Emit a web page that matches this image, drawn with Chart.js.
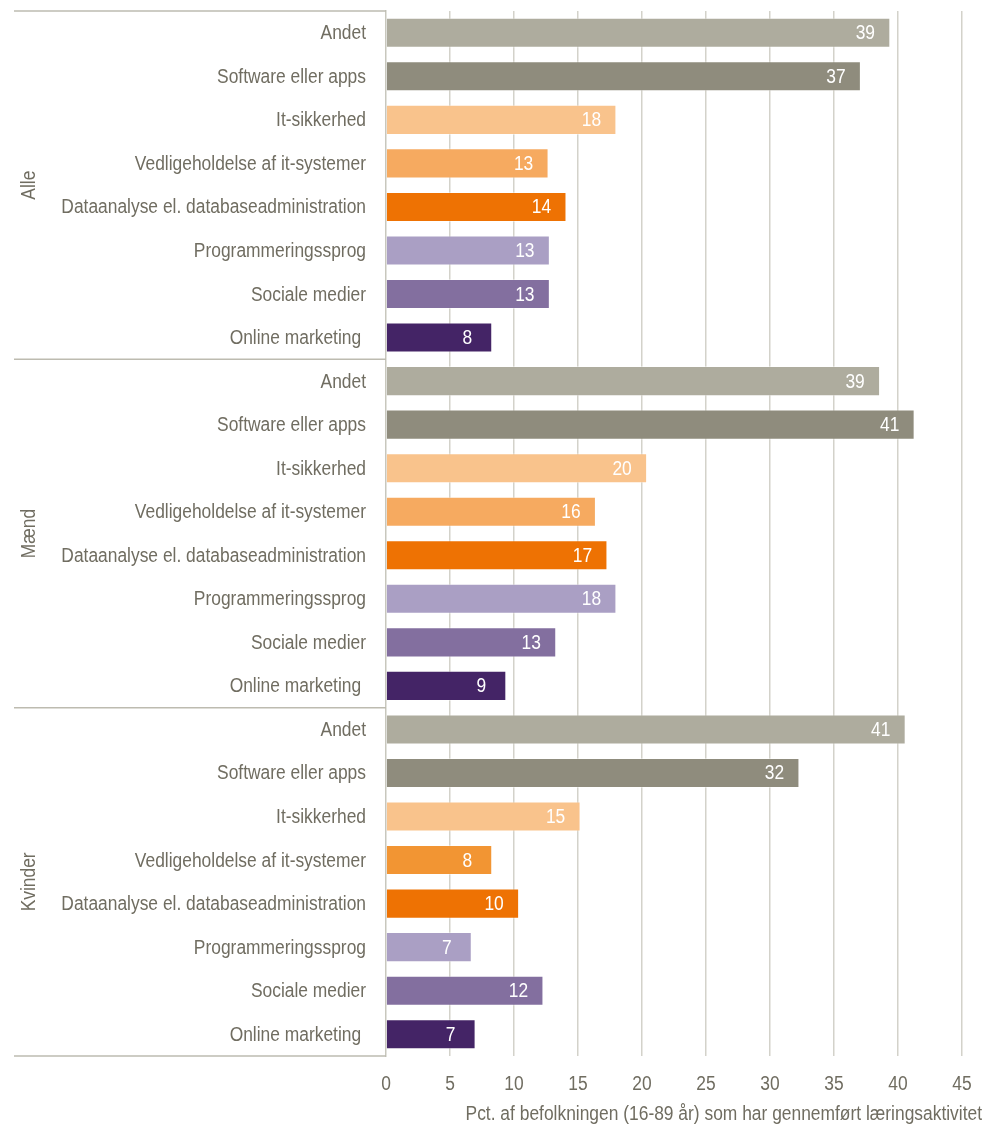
<!DOCTYPE html>
<html>
<head>
<meta charset="utf-8">
<script src="https://cdn.jsdelivr.net/npm/chart.js@4/dist/chart.umd.min.js"></script>
<style>
  html, body { margin: 0; padding: 0; background: #fff; }
  #wrap { width: 1000px; height: 1126px; position: relative; }
</style>
</head>
<body>
<div id="wrap"><canvas id="c" width="1000" height="1126"></canvas></div>
<script>
// Arial Narrow look: Liberation Sans squeezed horizontally
const FONT = "'Liberation Sans', Arial, sans-serif";
const NARROW = 0.87;
const TXT = "#706d61";

// data
const groups = ["Alle", "Mænd", "Kvinder"];
const categories = [
    "Andet",
    "Software eller apps",
    "It-sikkerhed",
    "Vedligeholdelse af it-systemer",
    "Dataanalyse el. databaseadministration",
    "Programmeringssprog",
    "Sociale medier",
    "Online marketing "
];
const valuesAlle    = [39.4, 37.1, 18.0, 12.7, 14.1, 12.8, 12.8, 8.3];
const valuesMaend   = [38.6, 41.3, 20.4, 16.4, 17.3, 18.0, 13.3, 9.4];
const valuesKvinder = [40.6, 32.3, 15.2, 8.3, 10.4, 6.7, 12.3, 7.0];
const xTicks = [0, 5, 10, 15, 20, 25, 30, 35, 40, 45];
const xTitle = "Pct. af befolkningen (16-89 år) som har gennemført læringsaktivitet";

const colorsAlle    = ["#aeac9e", "#8f8c7d", "#f9c38c", "#f6aa60", "#ee7203", "#aa9fc4", "#836f9f", "#442466"];
const colorsMaend   = ["#aeac9e", "#8f8c7d", "#f9c38c", "#f6aa60", "#ee7203", "#aa9fc4", "#836f9f", "#442466"];
const colorsKvinder = ["#aeac9e", "#8f8c7d", "#f9c38c", "#f29533", "#ee7203", "#aa9fc4", "#836f9f", "#442466"];

const labels = [...categories, ...categories, ...categories];
const values = [...valuesAlle, ...valuesMaend, ...valuesKvinder];
const colors = [...colorsAlle, ...colorsMaend, ...colorsKvinder];

function narrowText(ctx, text, x, y, align, rot) {
    ctx.save();
    ctx.translate(x, y);
    if (rot) ctx.rotate(rot);
    ctx.scale(NARROW, 1);
    ctx.textAlign = align;
    ctx.fillText(text, 0, 0);
    ctx.restore();
}

const decoPlugin = {
    id: "deco",
    afterDatasetsDraw(chart) {
        const ctx = chart.ctx;
        const meta = chart.getDatasetMeta(0);
        ctx.save();
        ctx.font = "20px " + FONT;
        ctx.fillStyle = "#ffffff";
        ctx.textBaseline = "middle";
        meta.data.forEach((bar, i) => {
            narrowText(ctx, String(Math.round(values[i])), bar.x - 25, bar.y + 1, "center");
        });
        ctx.restore();
    },
    afterDraw(chart) {
        const ctx = chart.ctx;
        const x = chart.scales.x;
        const y = chart.scales.y;
        const area = chart.chartArea;
        const n = categories.length;
        const half = (y.getPixelForValue(1) - y.getPixelForValue(0)) / 2;
        ctx.save();
        // separators
        ctx.strokeStyle = "#bdbbb0";
        ctx.lineWidth = 1.5;
        for (let g = 0; g <= groups.length; g++) {
            let py;
            if (g === groups.length) py = y.getPixelForValue(labels.length - 1) + half;
            else py = y.getPixelForValue(g * n) - half;
            ctx.beginPath();
            ctx.moveTo(14, py);
            ctx.lineTo(area.left, py);
            ctx.stroke();
        }
        ctx.fillStyle = TXT;
        ctx.font = "20px " + FONT;
        ctx.textBaseline = "middle";
        // category labels
        labels.forEach((lab, i) => {
            narrowText(ctx, lab, area.left - 20, y.getPixelForValue(i) + 1, "right");
        });
        // group labels
        groups.forEach((g, k) => {
            const top = y.getPixelForValue(k * n) - half;
            const bot = y.getPixelForValue(k * n + n - 1) + half;
            narrowText(ctx, g, 29, (top + bot) / 2, "center", -Math.PI / 2);
        });
        // x tick labels
        xTicks.forEach(v => {
            narrowText(ctx, String(v), x.getPixelForValue(v), area.bottom + 28, "center");
        });
        // axis title
        narrowText(ctx, xTitle, 982, area.bottom + 58, "right");
        ctx.restore();
    }
};

new Chart(document.getElementById("c"), {
    type: "bar",
    data: {
        labels: labels,
        datasets: [{
            data: values,
            backgroundColor: colors,
            borderColor: "rgba(255,255,255,0.4)",
            borderWidth: 1,
            borderSkipped: "start",
            barPercentage: 0.69,
            categoryPercentage: 1.0
        }]
    },
    options: {
        indexAxis: "y",
        responsive: false,
        animation: false,
        layout: { padding: { top: 11, right: 38, left: 0, bottom: 0 } },
        plugins: {
            legend: { display: false },
            tooltip: { enabled: false }
        },
        scales: {
            x: {
                min: 0,
                max: 45,
                afterBuildTicks: (s) => { s.ticks = xTicks.map(v => ({ value: v })); },
                afterFit: (s) => { s.height = 70; s.paddingLeft = 0; s.paddingRight = 0; },
                grid: {
                    color: (c) => c.tick && c.tick.value === 0 ? "rgba(0,0,0,0)" : "#d3d2ca",
                    lineWidth: 1.5,
                    drawTicks: false
                },
                border: { display: false },
                ticks: { display: false }
            },
            y: {
                afterFit: (s) => { s.width = 386; s.paddingTop = 0; s.paddingBottom = 0; },
                grid: { display: false, drawTicks: false },
                border: { display: true, color: "#c8c7bd", width: 1.5 },
                ticks: { display: false, autoSkip: false }
            }
        }
    },
    plugins: [decoPlugin]
});
</script>
</body>
</html>
